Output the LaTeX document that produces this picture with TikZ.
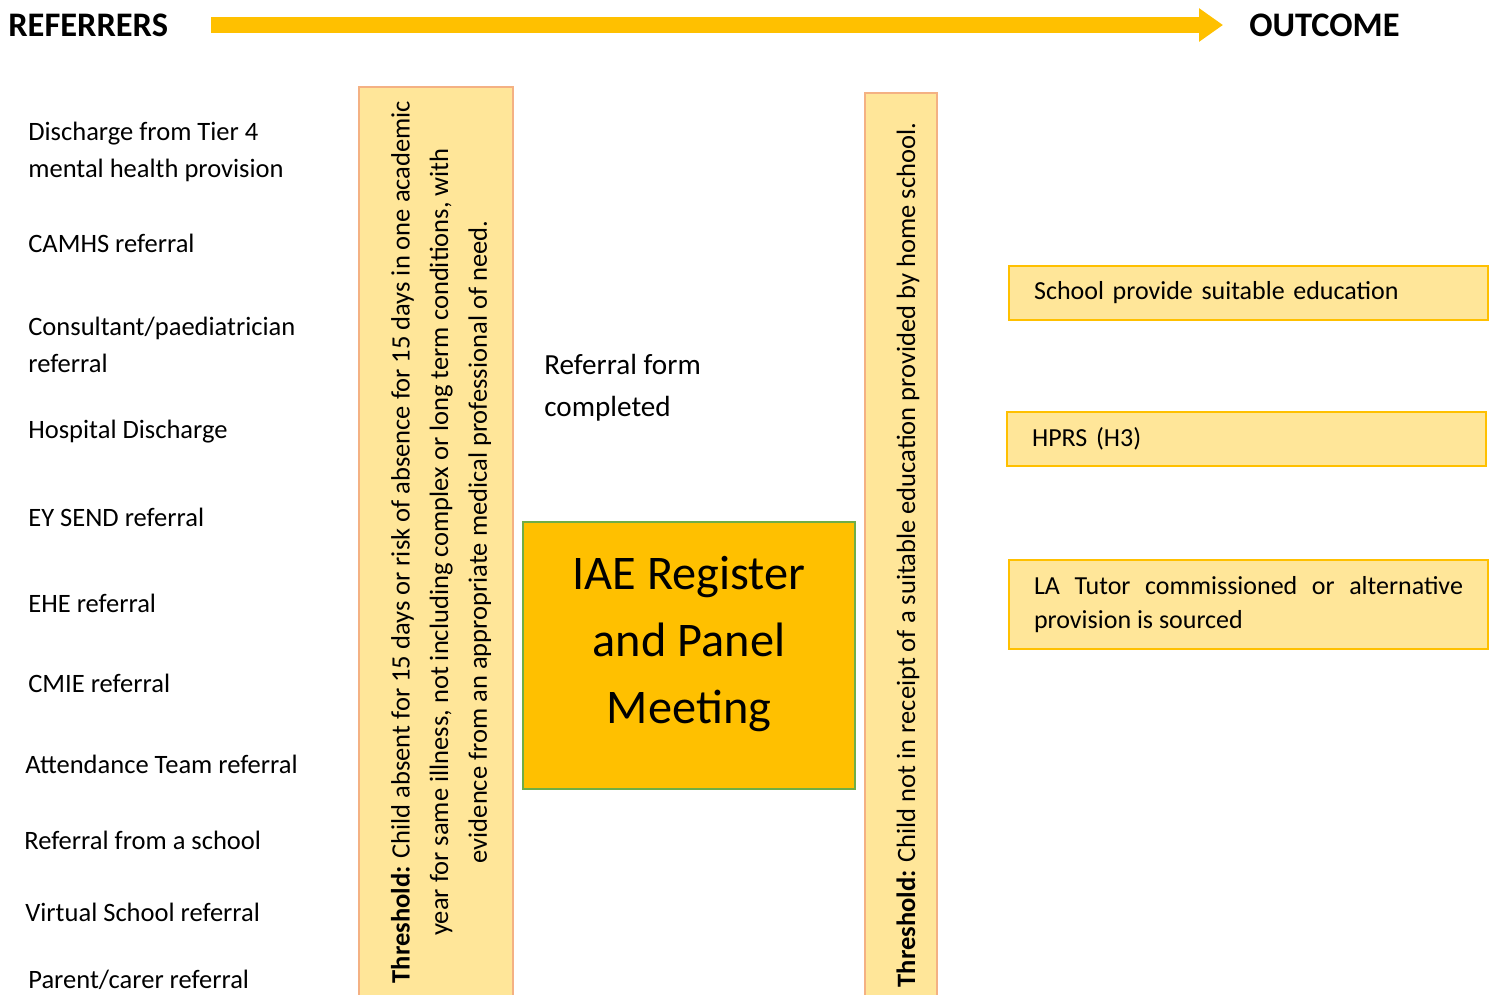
\documentclass[tikz,border=0pt]{standalone}
\usepackage{fontspec}
\setmainfont{Carlito}
\usetikzlibrary{arrows.meta,positioning}

\definecolor{gold}{HTML}{FFC000}
\definecolor{paleyellow}{HTML}{FFE699}
\definecolor{peach}{HTML}{F4B183}
\definecolor{leafgreen}{HTML}{70AD47}

\begin{document}
\begin{tikzpicture}
  [x=0.02cm,y=-0.02cm,
   heading/.style={inner sep=0pt,anchor=west,font=\fontsize{19.6}{23}\selectfont\bfseries},
   referrer/.style={inner sep=0pt,anchor=west,align=left,font=\fontsize{15.1}{21}\selectfont},
   bar/.style={draw=peach,fill=paleyellow,line width=0.9pt,minimum height=18.5cm},
   bar text/.style={inner sep=0pt,rotate=90,align=center,font=\fontsize{15.1}{22}\selectfont},
   panel/.style={draw=leafgreen,fill=gold,line width=0.9pt,minimum width=6.64cm,minimum height=5.34cm},
   outcome/.style={draw=gold,fill=paleyellow,line width=1.2pt,anchor=north west,inner xsep=0.5cm,
                   text width=8.58cm,align=left,font=\fontsize{14.8}{19.5}\selectfont}]

  \useasboundingbox (0,0) rectangle (1496,994);
  \clip (0,0) rectangle (1496,994);

  % headings and the timeline arrow
  \node [heading] (referrers) at (8,25)    {REFERRERS};
  \node [heading] (outcome)   at (1249,25) {OUTCOME};
  \draw [gold,line width=0.32cm,shorten <=0.86cm,shorten >=0.52cm,
         -{Triangle[length=0.48cm,width=0.64cm]}]
    (referrers) -- (outcome);

  % who refers
  \node [referrer] (tier4)      at (28,151.5) {Discharge from Tier 4\\mental health provision};
  \node [referrer] (camhs)      at (28,243)   {CAMHS referral};
  \node [referrer] (consultant) at (28,344.5) {Consultant/paediatrician\\referral};
  \node [referrer] (hospital)   at (28,432)   {Hospital Discharge};
  \node [referrer] (eysend)     at (28,517)   {EY SEND referral};
  \node [referrer] (ehe)        at (28,603)   {EHE referral};
  \node [referrer] (cmie)       at (28,683)   {CMIE referral};
  \node [referrer] (attendance) at (25,764)   {Attendance Team referral};
  \node [referrer] (school)     at (24,840)   {Referral from a school};
  \node [referrer] (virtual)    at (25,912)   {Virtual School referral};
  \node [referrer] (parent)     at (28,980)   {Parent/carer referral};

  % thresholds
  \node [bar,minimum width=3.08cm,anchor=north] (entry bar) at (436,86) {};
  \node [bar text] (entry rule) at (441,542)
    {\textbf{Threshold:} Child absent for 15 days or risk of absence for 15 days in one academic\\
     year for same illness, not including complex or long term conditions, with\\
     evidence from an appropriate medical professional of need.};

  \node [bar,minimum width=1.44cm,anchor=north] (exit bar) at (901,92) {};
  \node [bar text] (exit rule) at (908,555)
    {\textbf{Threshold:} Child not in receipt of a suitable education provided by home school.};

  % referral and panel
  \node [inner sep=0pt,anchor=west,align=left,font=\fontsize{16.6}{23.8}\selectfont]
    (form) at (544,388) {Referral form\\completed};
  \node [panel] (panel) at (689,655.5) {};
  \node [align=center,font=\fontsize{27.5}{38}\selectfont] (panel text) at (689,644)
    {IAE Register\\and Panel\\Meeting};

  % outcomes
  \node [outcome,minimum height=1.08cm] (suitable) at (1008,265) {School provide suitable education};
  \node [outcome,minimum height=1.08cm] (hprs)     at (1006,411) {HPRS (H3)};
  \node [outcome,align=justify,minimum height=1.78cm] (tutor) at (1008,559)
    {LA Tutor commissioned or alternative\linebreak provision is sourced};

\end{tikzpicture}
\end{document}
